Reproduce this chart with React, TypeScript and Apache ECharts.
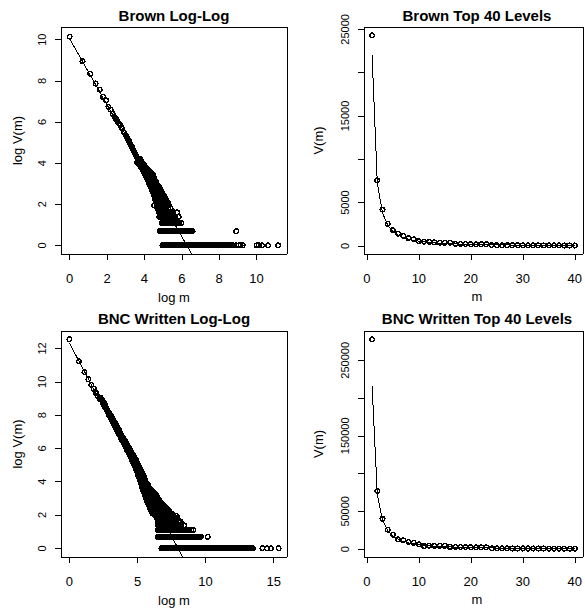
import React, { useEffect, useRef } from "react";
import * as echarts from "echarts";

const FONT = "'Liberation Sans', Arial, Helvetica, sans-serif";

// ---------- Brown Log-Log : individual points along the diagonal [log m, log V(m)] ----------
const brownDiag: number[][] = [
  [0.0, 10.15], [0.69, 8.95], [1.1, 8.34], [1.39, 7.87], [1.61, 7.57], [1.79, 7.22], [1.95, 7.06],
  [2.08, 6.74], [2.2, 6.6], [2.3, 6.4], [2.4, 6.26], [2.48, 6.14], [2.56, 6.03], [2.64, 5.92],
  [2.71, 5.86], [2.77, 5.74], [2.83, 5.66], [2.89, 5.52], [2.94, 5.47], [3.0, 5.36], [3.04, 5.31],
  [3.09, 5.21], [3.14, 5.14], [3.18, 5.07], [3.22, 4.98], [3.26, 4.93], [3.3, 4.84], [3.33, 4.79],
  [3.37, 4.72], [3.4, 4.65], [3.43, 4.59], [3.47, 4.53], [3.5, 4.46], [3.53, 4.43], [3.56, 4.37],
  [3.58, 4.33], [3.61, 4.28], [3.62, 4.02],
];

// ---------- Brown Log-Log : rows [log V, log m ...] ----------
const brownRows: number[][] = [
  [4.22, 3.64, 3.7, 3.76],
  [4.12, 3.66, 3.72, 3.78, 3.84],
  [4.02, 3.7, 3.76, 3.82, 3.88],
  [3.92, 3.74, 3.8, 3.86, 3.92, 3.98],
  [3.81, 3.82, 3.88, 3.94, 4.0, 4.06],
  [3.69, 3.9, 3.96, 4.02, 4.08, 4.14, 4.2],
  [3.58, 3.97, 4.03, 4.09, 4.15, 4.22, 4.29],
  [3.47, 4.03, 4.09, 4.15, 4.21, 4.28, 4.36, 4.44],
  [3.37, 4.08, 4.14, 4.2, 4.26, 4.33, 4.41, 4.49],
  [3.33, 4.16],
  [3.26, 4.13, 4.19, 4.25, 4.31, 4.38, 4.46, 4.54],
  [3.14, 4.2, 4.26, 4.32, 4.38, 4.45, 4.52, 4.6],
  [3.045, 4.24, 4.3, 4.36, 4.42, 4.49, 4.56, 4.63],
  [2.996, 4.28, 4.34, 4.4, 4.46, 4.52, 4.58, 4.65],
  [2.944, 4.3, 4.36, 4.42, 4.48, 4.54, 4.6, 4.68],
  [2.89, 4.32, 4.38, 4.44, 4.5, 4.56, 4.63, 4.7],
  [2.833, 4.34, 4.4, 4.46, 4.52, 4.58, 4.64, 4.72, 4.78],
  [2.773, 4.37, 4.43, 4.49, 4.55, 4.61, 4.68, 4.75, 4.82],
  [2.708, 4.4, 4.46, 4.52, 4.58, 4.64, 4.71, 4.78, 4.86],
  [2.639, 4.43, 4.49, 4.55, 4.61, 4.67, 4.74, 4.81, 4.9],
  [2.565, 4.46, 4.52, 4.58, 4.64, 4.7, 4.77, 4.84, 4.94],
  [2.485, 4.5, 4.56, 4.62, 4.68, 4.74, 4.81, 4.88, 4.98],
  [2.398, 4.53, 4.59, 4.65, 4.71, 4.77, 4.84, 4.92, 5.02, 5.08],
  [2.303, 4.56, 4.62, 4.68, 4.74, 4.8, 4.87, 4.95, 5.04, 5.12],
  [2.197, 4.59, 4.65, 4.71, 4.77, 4.83, 4.9, 4.98, 5.07, 5.17],
  [2.079, 4.62, 4.68, 4.74, 4.8, 4.86, 4.93, 5.01, 5.1, 5.21, 5.28],
  [1.946, 4.52, 4.66, 4.72, 4.78, 4.84, 4.9, 4.97, 5.05, 5.14, 5.24, 5.32],
  [1.792, 4.7, 4.76, 4.82, 4.88, 4.94, 5.01, 5.09, 5.18, 5.28, 5.4],
  [1.609, 4.76, 4.82, 4.88, 4.94, 5.0, 5.07, 5.14, 5.22, 5.31, 5.42, 5.55, 5.75],
  [1.386, 4.8, 4.86, 4.92, 4.98, 5.04, 5.11, 5.18, 5.26, 5.34, 5.43, 5.53, 5.64, 5.84],
  [1.099, 4.93, 4.99, 5.05, 5.11, 5.17, 5.23, 5.3, 5.37, 5.44, 5.51, 5.58, 5.65, 5.72, 5.8, 5.88, 5.97],
  [0.693, 4.82, 4.88, 4.95, 5.02, 5.09, 5.16, 5.23, 5.3, 5.37, 5.44, 5.51, 5.58, 5.65, 5.72, 5.79,
    5.86, 5.93, 6.0, 6.07, 6.14, 6.21, 6.28, 6.36, 6.44, 6.51, 6.58, 8.91],
  [0, 4.97, 5.04, 5.11, 5.18, 5.25, 5.32, 5.39, 5.46, 5.53, 5.6, 5.67, 5.74, 5.81, 5.88, 5.95, 6.02,
    6.09, 6.16, 6.23, 6.3, 6.37, 6.44, 6.51, 6.58, 6.65, 6.72, 6.79, 6.86, 6.93, 7.0, 7.07, 7.14, 7.21,
    7.28, 7.35, 7.42, 7.49, 7.56, 7.63, 7.7, 7.77, 7.84, 7.91, 7.98, 8.05, 8.12, 8.19, 8.26, 8.33, 8.4,
    8.47, 8.54, 8.61, 8.68, 8.74, 8.92, 9.05, 9.15, 9.26, 10.0, 10.12, 10.3, 10.62, 11.16],
];

// fitted line (start and where it leaves the panel)
const brownFit: number[][] = [[0, 10.05], [6.53, -0.42]];

// ---------- BNC Written Log-Log ----------
const bncDiag: number[][] = [
  [0.0, 12.55], [0.69, 11.22], [1.1, 10.58], [1.39, 10.15], [1.61, 9.82], [1.79, 9.58], [1.95, 9.32],
  [2.08, 9.12], [2.2, 8.98], [2.28, 9.05],
];

const bncRows: number[][] = [
  [8.9, 2.36, 2.42],
  [8.75, 2.44, 2.52],
  [8.6, 2.54, 2.62],
  [8.45, 2.63, 2.71],
  [8.3, 2.72, 2.8],
  [8.15, 2.82, 2.9],
  [8.0, 2.91, 3.0, 3.04],
  [7.85, 3.01, 3.09, 3.14],
  [7.7, 3.1, 3.18, 3.24],
  [7.55, 3.2, 3.28, 3.34],
  [7.4, 3.29, 3.37, 3.44],
  [7.25, 3.38, 3.46, 3.54],
  [7.1, 3.48, 3.56, 3.64],
  [6.95, 3.58, 3.66, 3.74],
  [6.8, 3.67, 3.75, 3.83],
  [6.65, 3.76, 3.84, 3.92, 3.96],
  [6.5, 3.86, 3.94, 4.02, 4.06],
  [6.35, 3.96, 4.04, 4.12, 4.16],
  [6.2, 4.05, 4.13, 4.21, 4.27],
  [6.05, 4.14, 4.22, 4.3, 4.36],
  [5.9, 4.24, 4.32, 4.4, 4.46],
  [5.75, 4.33, 4.41, 4.49, 4.57],
  [5.6, 4.42, 4.5, 4.58, 4.66],
  [5.45, 4.51, 4.59, 4.67, 4.75, 4.79],
  [5.3, 4.6, 4.68, 4.76, 4.84, 4.88],
  [5.15, 4.69, 4.77, 4.85, 4.93, 4.98],
  [5.0, 4.77, 4.85, 4.93, 5.01, 5.08],
  [4.85, 4.85, 4.93, 5.01, 5.09, 5.16],
  [4.7, 4.92, 5.0, 5.08, 5.16, 5.24],
  [4.55, 4.99, 5.07, 5.15, 5.23, 5.31],
  [4.4, 5.05, 5.13, 5.21, 5.29, 5.37, 5.44],
  [4.25, 5.11, 5.19, 5.27, 5.35, 5.43, 5.51],
  [4.1, 5.17, 5.25, 5.33, 5.41, 5.49, 5.58],
  [3.95, 5.23, 5.31, 5.39, 5.47, 5.55, 5.65],
  [3.8, 5.29, 5.37, 5.45, 5.53, 5.61, 5.7, 5.8],
  [3.65, 5.35, 5.43, 5.51, 5.59, 5.67, 5.76, 5.87],
  [3.5, 5.41, 5.49, 5.57, 5.65, 5.73, 5.82, 5.93, 6.04],
  [3.35, 5.47, 5.55, 5.63, 5.71, 5.79, 5.88, 5.99, 6.11, 6.2],
  [3.2, 5.53, 5.61, 5.69, 5.77, 5.85, 5.94, 6.05, 6.17, 6.28, 6.36],
  [3.09, 5.58, 5.66, 5.74, 5.82, 5.9, 5.99, 6.1, 6.22, 6.34, 6.44],
  [2.996, 5.62, 5.7, 5.78, 5.86, 5.95, 6.05, 6.16, 6.28, 6.4, 6.5],
  [2.944, 5.65, 5.73, 5.81, 5.9, 6.0, 6.11, 6.23, 6.35, 6.47, 6.55],
  [2.89, 5.68, 5.76, 5.84, 5.93, 6.03, 6.14, 6.26, 6.38, 6.5, 6.6],
  [2.833, 5.71, 5.79, 5.87, 5.96, 6.06, 6.17, 6.29, 6.41, 6.53, 6.64],
  [2.773, 5.74, 5.82, 5.9, 5.99, 6.09, 6.2, 6.32, 6.44, 6.56, 6.69],
  [2.708, 5.77, 5.85, 5.93, 6.02, 6.12, 6.23, 6.35, 6.47, 6.59, 6.74],
  [2.639, 5.8, 5.88, 5.96, 6.05, 6.15, 6.26, 6.38, 6.5, 6.62, 6.74, 6.82],
  [2.565, 5.84, 5.92, 6.0, 6.09, 6.19, 6.3, 6.42, 6.54, 6.66, 6.78, 6.92],
  [2.485, 5.88, 5.96, 6.04, 6.13, 6.23, 6.34, 6.46, 6.58, 6.7, 6.82, 6.94, 7.02],
  [2.398, 5.93, 6.01, 6.09, 6.18, 6.28, 6.39, 6.51, 6.63, 6.75, 6.87, 6.99, 7.12],
  [2.303, 5.98, 6.06, 6.14, 6.23, 6.33, 6.44, 6.56, 6.68, 6.8, 6.92, 7.04, 7.16, 7.25],
  [2.197, 6.04, 6.12, 6.2, 6.29, 6.39, 6.5, 6.62, 6.74, 6.86, 6.98, 7.1, 7.22, 7.36],
  [2.079, 6.12, 6.2, 6.28, 6.37, 6.47, 6.58, 6.7, 6.82, 6.94, 7.06, 7.18, 7.3, 7.42, 7.52],
  [1.946, 6.3, 6.38, 6.47, 6.57, 6.68, 6.8, 6.92, 7.04, 7.16, 7.28, 7.4, 7.52, 7.62, 7.88],
  [1.792, 6.45, 6.54, 6.64, 6.75, 6.87, 6.99, 7.11, 7.23, 7.35, 7.47, 7.59, 7.71, 7.83, 7.95],
  [1.609, 6.48, 6.57, 6.67, 6.78, 6.9, 7.02, 7.14, 7.26, 7.38, 7.5, 7.62, 7.74, 7.86, 7.98, 8.08, 8.17],
  [1.386, 6.48, 6.57, 6.67, 6.78, 6.9, 7.02, 7.14, 7.26, 7.38, 7.5, 7.62, 7.74, 7.86, 7.98, 8.1, 8.22, 8.42],
  [1.099, 6.48, 6.57, 6.67, 6.78, 6.9, 7.02, 7.14, 7.26, 7.38, 7.5, 7.62, 7.74, 7.86, 7.98, 8.1, 8.22,
    8.34, 8.46, 8.58, 8.7, 8.82, 8.94, 9.1],
  [0.693, 6.47, 6.57, 6.68, 6.79, 6.9, 7.01, 7.12, 7.23, 7.34, 7.45, 7.56, 7.67, 7.78, 7.89, 8.0, 8.11,
    8.22, 8.33, 8.44, 8.55, 8.66, 8.77, 8.88, 8.99, 9.1, 9.21, 9.32, 9.43, 9.54, 9.66, 10.16],
  [0, 6.76, 6.87, 6.98, 7.09, 7.2, 7.31, 7.42, 7.53, 7.64, 7.75, 7.86, 7.97, 8.08, 8.19, 8.3, 8.41, 8.52,
    8.63, 8.74, 8.85, 8.96, 9.07, 9.18, 9.29, 9.4, 9.51, 9.62, 9.73, 9.84, 9.95, 10.06, 10.17, 10.28,
    10.39, 10.5, 10.61, 10.72, 10.83, 10.94, 11.05, 11.16, 11.27, 11.38, 11.49, 11.6, 11.71, 11.82,
    11.93, 12.04, 12.15, 12.26, 12.37, 12.48, 12.59, 12.7, 12.81, 12.92, 13.03, 13.14, 13.25, 13.36,
    13.47, 14.18, 14.5, 14.8, 15.36],
];

const bncFit: number[][] = [[0, 12.32], [8.3, -0.5]];

// ---------- Top 40 levels ----------
const mLevels = [1, 2, 3, 4, 5, 6, 7, 8, 9, 10, 11, 12, 13, 14, 15, 16, 17, 18, 19, 20,
  21, 22, 23, 24, 25, 26, 27, 28, 29, 30, 31, 32, 33, 34, 35, 36, 37, 38, 39, 40];

const brownTop: number[] = [24300, 7560, 4190, 2560, 1820, 1430, 1160, 880, 760, 560, 500, 470, 410, 380,
  360, 370, 240, 230, 220, 210, 200, 195, 185, 90, 85, 85, 80, 75, 75, 70, 70, 65, 65, 60, 60, 55, 55, 50, 50, 50];
const brownTopFit: number[] = [22000, 7260, 3800, 2400, 1670, 1240, 960, 790, 650, 550, 475, 415, 365, 325,
  290, 260, 240, 215, 200, 182, 170, 155, 145, 135, 127, 120, 112, 106, 100, 96, 91, 86, 82, 78, 75, 72, 69, 66, 63, 60];

const bncTop: number[] = [277700, 77000, 40300, 25700, 19100, 12900, 11500, 9700, 8400, 6200, 4000, 4600,
  4500, 4400, 4300, 2900, 2800, 2700, 2600, 2500, 2500, 2400, 2300, 1000, 950, 900, 900, 850, 800, 800,
  750, 750, 700, 700, 700, 650, 650, 600, 600, 600];
const bncTopFit: number[] = [215800, 72800, 38600, 24580, 17330, 13020, 10230, 8300, 6900, 5850, 5040, 4390,
  3880, 3450, 3100, 2800, 2545, 2330, 2140, 1975, 1830, 1700, 1585, 1485, 1390, 1310, 1235, 1165, 1100,
  1045, 993, 945, 900, 860, 820, 785, 752, 722, 693, 665];

// ---------- ticks ----------
const brownLogXTicks = [0, 2, 4, 6, 8, 10];
const brownLogYTicks = [0, 2, 4, 6, 8, 10];
const bncLogXTicks = [0, 5, 10, 15];
const bncLogYTicks = [0, 2, 4, 6, 8, 10, 12];
const topXTicks = [0, 10, 20, 30, 40];
const brownTopYTicks = [0, 5000, 10000, 15000, 20000, 25000];
const brownTopYLabels = [0, 5000, 15000, 25000];
const bncTopYTicks = [0, 50000, 100000, 150000, 200000, 250000];
const bncTopYLabels = [0, 50000, 150000, 250000];

const titles = ["Brown Log-Log", "Brown Top 40 Levels", "BNC Written Log-Log", "BNC Written Top 40 Levels"];

function rowsToPoints(rows: number[][]): number[][] {
  const pts: number[][] = [];
  for (const r of rows) {
    for (let i = 1; i < r.length; i++) pts.push([r[i], r[0]]);
  }
  return pts;
}

function xAxis(gridIndex: number, min: number, max: number, ticks: number[]) {
  return {
    type: "value", gridIndex, min, max,
    axisLine: { show: true, onZero: false, lineStyle: { color: "#000", width: 1 } },
    axisTick: { show: true, length: 6, lineStyle: { color: "#000", width: 1 }, customValues: ticks },
    axisLabel: {
      show: true, customValues: ticks, color: "#000", fontSize: 13, fontFamily: FONT, margin: 18,
      formatter: (v: number) => String(v),
    },
    splitLine: { show: false },
  };
}

function yAxis(gridIndex: number, min: number, max: number, ticks: number[], labels: number[]) {
  return {
    type: "value", gridIndex, min, max,
    axisLine: { show: true, onZero: false, lineStyle: { color: "#000", width: 1 } },
    axisTick: { show: true, length: 6, lineStyle: { color: "#000", width: 1 }, customValues: ticks },
    axisLabel: {
      show: true, customValues: labels, color: "#000", fontSize: 11, fontFamily: FONT, margin: 14,
      rotate: 90, formatter: (v: number) => String(v),
    },
    splitLine: { show: false },
  };
}

// frame axes (top and right sides of each box)
function frameX(gridIndex: number) {
  return {
    type: "value", gridIndex, position: "top", min: 0, max: 1,
    axisLine: { show: true, onZero: false, lineStyle: { color: "#000", width: 1 } },
    axisTick: { show: false }, axisLabel: { show: false }, splitLine: { show: false },
  };
}
function frameY(gridIndex: number) {
  return {
    type: "value", gridIndex, position: "right", min: 0, max: 1,
    axisLine: { show: true, onZero: false, lineStyle: { color: "#000", width: 1 } },
    axisTick: { show: false }, axisLabel: { show: false }, splitLine: { show: false },
  };
}

const pointStyle = { color: "none", borderColor: "#000", borderWidth: 1.5, opacity: 1 };

export default function App() {
  const ref = useRef<HTMLDivElement>(null);
  useEffect(() => {
    if (!ref.current) return;
    const chart = echarts.init(ref.current, null, { renderer: "svg" });
    const centers = [174, 477];
    const txt = (text: string, x: number, y: number, font: string, rot = 0) => ({
      type: "text", x, y, rotation: rot, silent: true,
      style: { text, font, fill: "#000", align: "center", verticalAlign: "middle" },
    });
    const titleFont = `bold 15px ${FONT}`;
    const labFont = `13px ${FONT}`;
    const scatter = (idx: number, data: number[][]) => ({
      type: "scatter", xAxisIndex: idx, yAxisIndex: idx, data, symbol: "circle", symbolSize: 4.6,
      itemStyle: pointStyle, silent: true, z: 3, progressive: 0, large: false,
      emphasis: { disabled: true },
    });
    const line = (idx: number, data: number[][]) => ({
      type: "line", xAxisIndex: idx, yAxisIndex: idx, data, showSymbol: false, symbol: "none",
      lineStyle: { color: "#000", width: 1 }, silent: true, z: 2, clip: true,
    });

    const option = {
      animation: false,
      backgroundColor: "#fff",
      textStyle: { fontFamily: FONT },
      grid: [
        { left: 61, top: 27, width: 226, height: 227 },
        { left: 364, top: 27, width: 226, height: 227 },
        { left: 61, top: 331, width: 226, height: 226 },
        { left: 364, top: 331, width: 226, height: 226 },
      ],
      xAxis: [
        xAxis(0, -0.46, 11.63, brownLogXTicks),
        xAxis(1, -0.56, 41.56, topXTicks),
        xAxis(2, -0.62, 15.98, bncLogXTicks),
        xAxis(3, -0.56, 41.56, topXTicks),
        frameX(0), frameX(1), frameX(2), frameX(3),
      ],
      yAxis: [
        yAxis(0, -0.42, 10.62, brownLogYTicks, brownLogYTicks),
        yAxis(1, -930, 25270, brownTopYTicks, brownTopYLabels),
        yAxis(2, -0.52, 13.05, bncLogYTicks, bncLogYTicks),
        yAxis(3, -10480, 288780, bncTopYTicks, bncTopYLabels),
        frameY(0), frameY(1), frameY(2), frameY(3),
      ],
      series: [
        scatter(0, brownDiag.concat(rowsToPoints(brownRows))),
        line(0, brownFit),
        scatter(1, mLevels.map((m, i) => [m, brownTop[i]])),
        line(1, mLevels.map((m, i) => [m, brownTopFit[i]])),
        scatter(2, bncDiag.concat(rowsToPoints(bncRows))),
        line(2, bncFit),
        scatter(3, mLevels.map((m, i) => [m, bncTop[i]])),
        line(3, mLevels.map((m, i) => [m, bncTopFit[i]])),
      ],
      graphic: [
        txt(titles[0], centers[0], 15.5, titleFont),
        txt(titles[1], centers[1], 15.5, titleFont),
        txt(titles[2], centers[0], 318, titleFont),
        txt(titles[3], centers[1], 318, titleFont),
        txt("log m", centers[0], 297.5, labFont),
        txt("m", centers[1], 296.5, labFont),
        txt("log m", centers[0], 600, labFont),
        txt("m", centers[1], 599.5, labFont),
        txt("log V(m)", 17.5, 140.5, labFont, Math.PI / 2),
        txt("V(m)", 318, 140.5, labFont, Math.PI / 2),
        txt("log V(m)", 17.5, 444, labFont, Math.PI / 2),
        txt("V(m)", 318, 444, labFont, Math.PI / 2),
      ],
    };
    chart.setOption(option as any);
    return () => chart.dispose();
  }, []);
  return (
    <>
      <style>{`.rplot svg path { shape-rendering: crispEdges; }`}</style>
      <div
        ref={ref}
        className="rplot"
        style={{ position: "absolute", left: 0, top: 0, width: 585, height: 608, background: "#fff" }}
      />
    </>
  );
}
